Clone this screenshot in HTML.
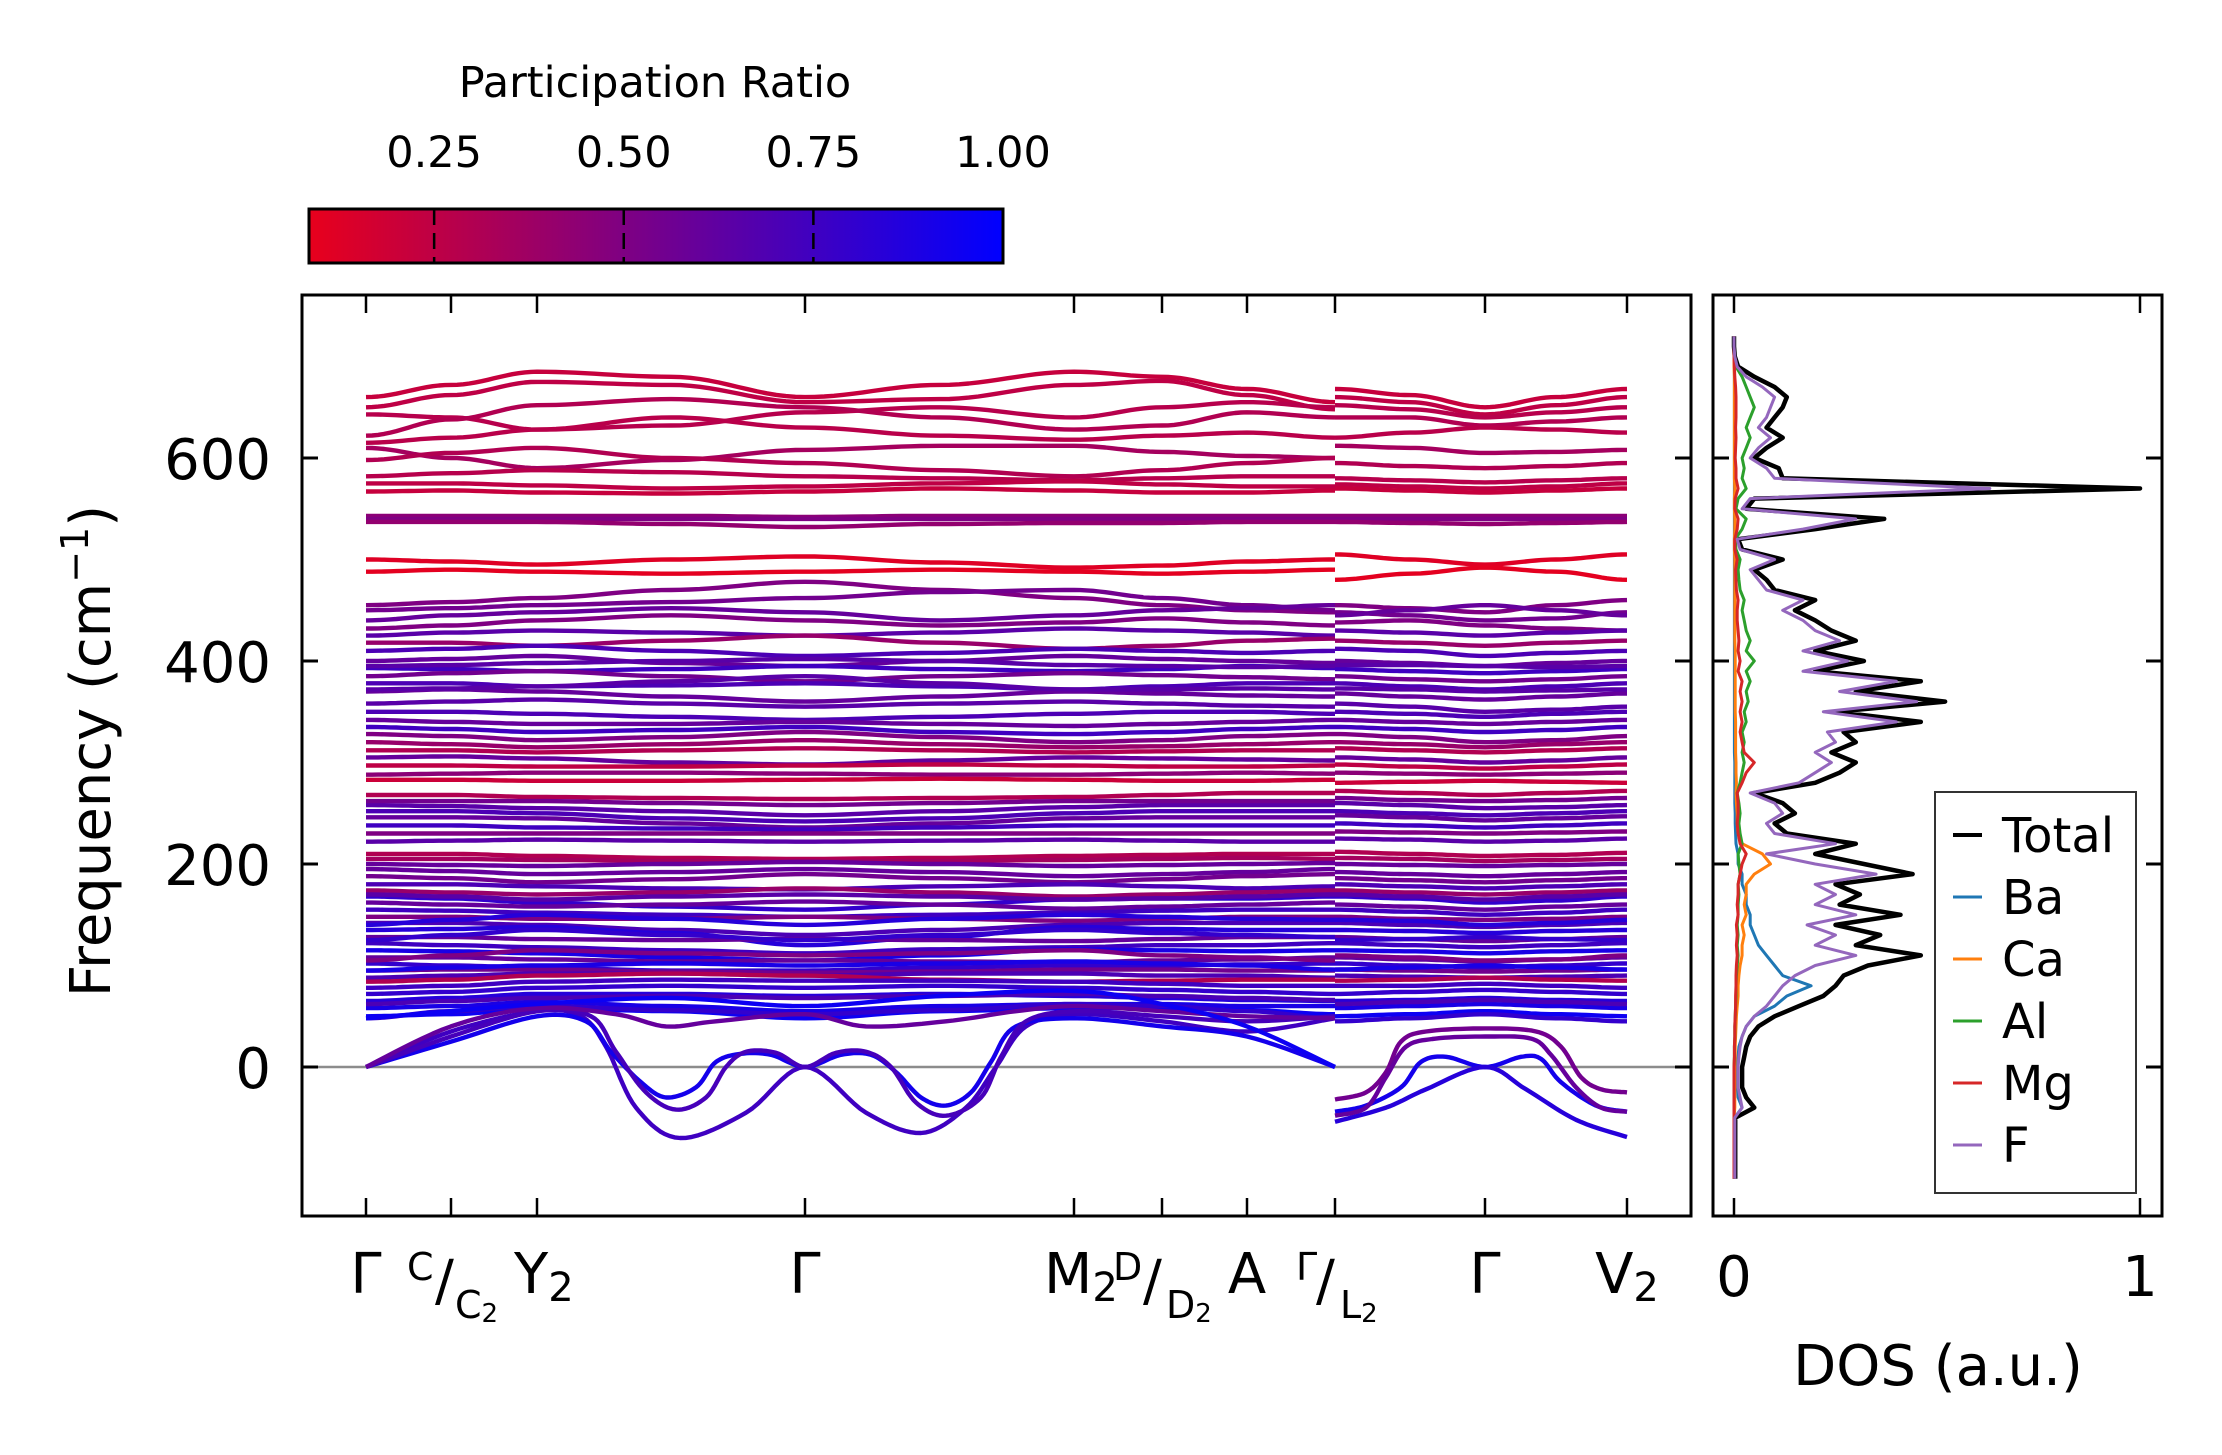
<!DOCTYPE html>
<html><head><meta charset="utf-8"><style>
html,body{margin:0;padding:0;background:#fff;}
svg{display:block;font-family:"DejaVu Sans","Liberation Sans",sans-serif;}
</style></head><body>
<svg id="fig" width="2222" height="1455" viewBox="0 0 2222 1455" xmlns="http://www.w3.org/2000/svg">
<defs>
<clipPath id="mainClip"><rect x="302" y="295" width="1389" height="921"/></clipPath>
<clipPath id="dosClip"><rect x="1713" y="295" width="449" height="921"/></clipPath>
<linearGradient id="cbGrad" x1="0" x2="1" y1="0" y2="0">
<stop offset="0" stop-color="rgb(232,0,28)"/><stop offset="0.5" stop-color="rgb(116,0,141)"/><stop offset="1" stop-color="rgb(0,0,255)"/>
</linearGradient>
</defs>
<g id="bands" clip-path="url(#mainClip)"></g>
<g id="dos" clip-path="url(#dosClip)"></g>
<g id="axes"></g>
<text x="655" y="97" font-size="43" text-anchor="middle">Participation Ratio</text>
<text transform="translate(110,751) rotate(-90)" font-size="56" text-anchor="middle">Frequency (cm<tspan font-size="38" dy="-22">−1</tspan><tspan dy="22">)</tspan></text>
<text x="1938" y="1385" font-size="56" text-anchor="middle">DOS (a.u.)</text>
<g font-size="56">
<text x="366" y="1293" text-anchor="middle">Γ</text>
<text x="407" y="1280" font-size="38">C</text>
<text x="435" y="1300">/</text>
<text x="455" y="1318" font-size="38">C<tspan font-size="26" dy="4">2</tspan></text>
<text x="514" y="1293">Y<tspan font-size="40" dy="8">2</tspan></text>
<text x="805" y="1293" text-anchor="middle">Γ</text>
<text x="1044" y="1293">M<tspan font-size="40" dy="8">2</tspan></text>
<text x="1113" y="1280" font-size="38">D</text>
<text x="1143" y="1300">/</text>
<text x="1166" y="1318" font-size="38">D<tspan font-size="26" dy="4">2</tspan></text>
<text x="1247" y="1293" text-anchor="middle">A</text>
<text x="1296" y="1280" font-size="38">Γ</text>
<text x="1316" y="1300">/</text>
<text x="1340" y="1318" font-size="38">L<tspan font-size="26" dy="4">2</tspan></text>
<text x="1485" y="1293" text-anchor="middle">Γ</text>
<text x="1627" y="1293" text-anchor="middle">V<tspan font-size="40" dy="8">2</tspan></text>
</g>
</svg>
<script>
const kTicks = [0, 0.085, 0.171, 0.439, 0.708, 0.796, 0.881, 0.969, 1.119, 1.261];
const kLeftNodes = [0, 0.085, 0.171, 0.305, 0.439, 0.574, 0.708, 0.796, 0.881, 0.969];
const kRightNodes = [0.969, 1.044, 1.119, 1.19, 1.261];
const bandValues = [
[660,672,685,680,660,672,685,680,668,655,668,662,650,660,668],
[650,662,675,672,655,658,672,676,662,648,660,655,643,652,660],
[643,640,628,632,645,650,640,650,655,650,652,648,640,645,650],
[622,638,652,658,650,640,628,632,645,640,640,640,632,636,640],
[615,620,628,640,630,622,618,622,625,620,620,625,630,628,625],
[610,600,590,598,608,612,612,606,602,600,612,610,605,606,608],
[598,605,610,600,595,588,582,588,595,600,595,592,590,592,595],
[582,585,588,586,582,580,578,580,582,582,580,578,576,578,580],
[575,575,573,570,572,575,577,574,572,572,574,572,570,572,575],
[567,568,566,565,567,570,568,566,566,568,570,568,566,568,570],
[543,543,543,543,542,543,543,543,543,543,543,543,543,543,543],
[540,540,540,540,540,540,540,540,540,540,540,540,540,540,540],
[537,537,537,535,532,535,536,536,537,537,537,536,535,536,537],
[500,498,495,500,503,497,492,494,498,500,505,500,495,500,505],
[488,490,488,486,488,490,488,486,488,490,480,486,492,488,480],
[455,458,462,470,478,470,462,455,450,448,455,452,448,455,460],
[450,452,455,458,462,468,470,462,455,450,448,445,440,442,448],
[440,445,448,452,448,440,445,450,452,455,445,450,455,450,445],
[432,435,440,445,440,435,438,442,438,435,438,440,435,432,430],
[425,428,430,428,425,428,432,430,428,425,430,428,425,428,430],
[418,418,415,420,425,418,412,415,420,422,420,418,415,418,420],
[410,412,415,410,405,408,412,410,408,410,412,410,405,408,410],
[400,402,405,398,395,400,405,402,400,398,400,398,395,398,400],
[393,392,390,392,395,392,390,392,395,393,392,390,388,390,392],
[385,388,390,385,380,385,388,386,384,382,385,382,380,382,385],
[378,378,375,376,378,375,372,375,378,378,378,375,372,375,378],
[370,372,370,365,360,365,370,368,366,365,368,365,362,365,368],
[358,360,362,358,355,358,360,358,356,355,358,355,350,352,355],
[350,350,348,345,342,345,348,350,350,348,350,348,345,348,350],
[342,340,338,338,340,338,336,338,340,342,342,340,338,340,342],
[335,333,330,332,335,330,328,330,333,335,335,333,330,332,335],
[328,326,322,325,330,325,320,322,326,328,328,325,320,322,326],
[320,318,315,318,322,318,315,316,318,320,320,318,315,318,320],
[312,312,310,312,314,312,310,311,312,312,314,312,310,312,314],
[305,306,304,300,298,302,305,304,303,302,305,303,300,302,305],
[297,297,296,296,297,298,297,296,296,297,298,296,294,296,298],
[288,289,290,290,289,288,288,289,290,289,290,289,288,289,290],
[283,283,282,282,283,284,283,282,282,283,280,281,282,281,280],
[395,396,398,400,402,400,396,395,394,395,396,396,395,394,395],
[372,373,375,380,385,378,372,372,373,372,373,372,370,371,372],
[258,257,255,252,248,252,256,258,258,258,260,258,255,256,258],
[252,252,250,245,242,245,250,252,252,252,252,250,248,250,252],
[246,246,245,240,236,240,245,246,246,246,248,246,243,245,247],
[238,238,236,235,234,236,238,238,238,238,240,238,236,238,240],
[230,230,230,230,230,230,230,230,230,230,232,231,230,231,232],
[222,223,224,223,222,223,224,223,222,222,225,224,222,223,225],
[210,210,208,206,205,206,208,209,210,210,212,210,208,209,211],
[205,205,204,203,203,203,204,205,206,205,206,205,203,204,205],
[200,199,198,200,202,200,198,199,200,201,200,199,198,199,200],
[268,268,266,265,264,265,266,268,270,270,272,270,268,270,272],
[262,262,262,260,258,260,262,262,262,262,265,263,262,263,265],
[195,193,190,192,195,192,188,190,192,195,192,190,188,190,192],
[188,186,182,185,190,186,182,185,188,190,186,184,182,184,186],
[180,180,178,176,175,178,180,178,176,178,180,178,176,178,180],
[174,172,170,172,176,172,168,170,172,174,174,172,170,172,174],
[168,166,162,158,155,160,165,166,166,168,168,166,162,164,168],
[162,160,158,160,163,160,156,158,160,162,160,158,155,158,160],
[155,154,152,150,148,150,152,154,155,155,155,153,150,152,155],
[148,148,146,146,148,146,144,146,148,148,148,146,145,146,148],
[142,142,140,135,130,135,140,142,142,142,142,140,138,140,142],
[135,136,138,132,120,128,138,136,135,135,135,134,132,134,135],
[128,128,126,125,126,125,124,126,128,128,128,126,124,126,128],
[122,120,118,115,112,116,118,120,120,122,122,120,118,120,122],
[115,114,112,108,105,110,116,115,114,115,115,114,112,114,115],
[108,108,106,104,105,104,103,105,106,108,108,106,104,106,108],
[102,100,98,95,95,98,100,100,101,102,102,100,98,100,102],
[95,96,96,94,93,94,96,96,95,95,96,95,94,95,96],
[88,90,92,92,90,92,92,90,90,88,90,89,88,89,90],
[84,86,90,92,90,86,84,85,86,86,85,86,88,86,85],
[78,80,84,86,85,85,84,82,80,80,80,80,82,80,78],
[72,74,78,80,78,80,78,76,74,72,72,74,76,74,72],
[65,68,72,72,70,72,70,68,66,65,65,66,68,66,65],
[58,60,64,60,55,60,62,62,60,60,58,60,62,60,58],
[50,52,58,55,48,55,58,58,56,52,50,52,55,52,50],
[48,55,60,56,52,56,62,60,55,48,45,48,52,48,45],
[105,110,115,112,110,112,115,110,108,105,110,108,105,106,110],
[140,145,150,146,140,146,150,148,146,145,145,144,140,142,145],
[170,168,165,168,170,168,165,166,168,170,170,168,165,168,170],
[62,65,68,70,68,70,72,70,68,66,62,64,66,64,62],
[125,130,135,130,125,130,135,132,130,128,125,126,128,126,125],
[95,98,100,102,100,102,104,102,100,96,96,98,100,98,96]
];
const bandPR = [0.22,0.25,0.28,0.3,0.27,0.35,0.3,0.28,0.25,0.22,0.45,0.5,0.42,0.12,0.1,
0.5,0.55,0.6,0.5,0.65,0.4,0.7,0.6,0.75,0.55,0.7,0.6,0.65,0.7,0.6,0.75,0.5,0.4,0.3,0.6,0.25,0.45,0.2,0.65,0.65,
0.65,0.7,0.6,0.75,0.5,0.65,0.3,0.35,0.6,0.3,0.55,
0.6,0.55,0.7,0.4,0.8,0.6,0.75,0.5,0.7,0.85,0.6,0.75,0.9,0.6,0.8,0.55,0.7,0.3,0.75,0.8,0.85,0.9,0.95,0.8,0.5,0.85,0.65,0.7,0.8,0.9];
const softLeft = [
[[0,0],[0.085,35],[0.171,55],[0.215,50],[0.24,20],[0.27,-40],[0.314,-70],[0.38,-45],[0.439,0],[0.50,-45],[0.555,-65],[0.60,-40],[0.63,0],[0.66,40],[0.711,52],[0.796,45],[0.881,35],[0.969,48]],
[[0,0],[0.085,25],[0.171,50],[0.22,45],[0.245,15],[0.275,-15],[0.30,-30],[0.33,-20],[0.35,5],[0.375,13],[0.405,12],[0.439,0],[0.475,12],[0.505,12],[0.53,-5],[0.555,-30],[0.58,-38],[0.605,-25],[0.625,5],[0.65,40],[0.711,48],[0.796,40],[0.881,30],[0.969,0]],
[[0,0],[0.085,30],[0.171,55],[0.225,50],[0.25,15],[0.28,-25],[0.31,-42],[0.34,-30],[0.36,0],[0.38,15],[0.41,14],[0.439,0],[0.47,14],[0.50,15],[0.525,0],[0.55,-35],[0.58,-48],[0.615,-30],[0.635,10],[0.66,45],[0.711,55],[0.796,50],[0.881,45],[0.969,50]],
[[0,0],[0.085,40],[0.171,58],[0.25,52],[0.30,40],[0.35,45],[0.439,52],[0.5,40],[0.58,45],[0.65,55],[0.711,60],[0.796,55],[0.881,50],[0.969,48]],
[[0,48],[0.085,55],[0.171,62],[0.305,68],[0.439,60],[0.574,70],[0.708,75],[0.796,62],[0.881,40],[0.969,0]]
];
const softLeftPR = [0.75,0.92,0.72,0.6,0.95];
const softRight = [
[[0.969,-32],[1.0,-25],[1.02,-5],[1.035,25],[1.06,35],[1.119,38],[1.17,35],[1.195,20],[1.215,-10],[1.235,-22],[1.261,-25]],
[[0.969,-44],[1.0,-38],[1.035,-20],[1.055,5],[1.08,10],[1.119,0],[1.155,10],[1.175,8],[1.195,-15],[1.23,-38],[1.261,-44]],
[[0.969,-54],[1.02,-40],[1.06,-22],[1.119,0],[1.16,-22],[1.21,-52],[1.261,-69]],
[[0.969,-48],[1.0,-40],[1.02,-10],[1.04,20],[1.07,28],[1.119,30],[1.165,28],[1.185,12],[1.21,-20],[1.235,-40],[1.261,-44]]
];
const softRightPR = [0.55,0.92,0.85,0.6];
const dosFreq = [-110,-100,-90,-80,-70,-60,-50,-40,-30,-20,-10,0,10,20,30,40,50,60,70,80,90,100,110,120,130,140,150,160,170,180,190,200,210,220,230,240,250,260,270,280,290,300,310,320,330,340,350,360,370,380,390,400,410,420,430,440,450,460,470,480,490,500,510,520,530,540,550,560,570,580,590,600,610,620,630,640,650,660,670,680,690,700,710,720];
const dosTotal = [0.003,0.003,0.003,0.003,0.003,0.003,0.003,0.05,0.03,0.02,0.02,0.02,0.025,0.03,0.04,0.06,0.1,0.16,0.22,0.25,0.27,0.33,0.46,0.3,0.36,0.25,0.41,0.26,0.31,0.25,0.44,0.32,0.2,0.3,0.13,0.1,0.15,0.12,0.05,0.2,0.26,0.3,0.24,0.3,0.27,0.46,0.25,0.52,0.3,0.46,0.2,0.32,0.2,0.3,0.24,0.2,0.15,0.2,0.1,0.08,0.05,0.12,0.02,0.01,0.2,0.37,0.03,0.05,1.0,0.12,0.11,0.05,0.08,0.12,0.08,0.1,0.12,0.13,0.1,0.05,0.01,0.002,0,0];
const dosF = [0.002,0.002,0.002,0.002,0.002,0.002,0.002,0.02,0.015,0.01,0.01,0.01,0.012,0.015,0.02,0.03,0.05,0.08,0.1,0.12,0.15,0.2,0.3,0.2,0.25,0.18,0.3,0.2,0.25,0.2,0.35,0.2,0.08,0.25,0.1,0.08,0.12,0.1,0.04,0.16,0.2,0.24,0.2,0.25,0.23,0.4,0.22,0.45,0.26,0.4,0.17,0.28,0.17,0.26,0.2,0.17,0.12,0.17,0.08,0.06,0.04,0.1,0.015,0.008,0.17,0.3,0.02,0.04,0.63,0.1,0.08,0.04,0.06,0.09,0.06,0.08,0.09,0.1,0.07,0.03,0.008,0.002,0,0];
const dosBa = [0.001,0.001,0.001,0.001,0.001,0.001,0.001,0.02,0.01,0.008,0.008,0.008,0.01,0.012,0.02,0.03,0.05,0.1,0.13,0.19,0.12,0.1,0.08,0.06,0.05,0.04,0.04,0.03,0.03,0.02,0.02,0.01,0.01,0.005,0.004,0.003,0.003,0.002,0.002,0.002,0.002,0.002,0.001,0.001,0.001,0.001,0.001,0.001,0.001,0.001,0.001,0.001,0.001,0.001,0.001,0.001,0.001,0.001,0.001,0.001,0.001,0.001,0.001,0.001,0.001,0.001,0.001,0.001,0.001,0.001,0.001,0.001,0.001,0.001,0.001,0.001,0.001,0.001,0.001,0.001,0.001,0,0,0];
const dosCa = [0,0,0,0,0,0,0,0.002,0.002,0.002,0.002,0.002,0.003,0.003,0.004,0.005,0.006,0.008,0.01,0.01,0.012,0.015,0.02,0.02,0.025,0.02,0.03,0.025,0.03,0.03,0.05,0.09,0.07,0.02,0.01,0.008,0.008,0.006,0.005,0.006,0.005,0.005,0.004,0.004,0.004,0.004,0.003,0.003,0.003,0.003,0.003,0.003,0.003,0.002,0.002,0.002,0.002,0.002,0.002,0.002,0.002,0.002,0.001,0.001,0.002,0.002,0.001,0.001,0.002,0.001,0.001,0.001,0.001,0.001,0.001,0.001,0.001,0.001,0.001,0.001,0,0,0,0];
const dosAl = [0,0,0,0,0,0,0,0,0,0,0,0,0.001,0.001,0.002,0.002,0.003,0.004,0.005,0.005,0.006,0.008,0.01,0.008,0.01,0.008,0.01,0.01,0.012,0.01,0.015,0.012,0.01,0.02,0.015,0.012,0.015,0.012,0.008,0.015,0.02,0.025,0.02,0.025,0.02,0.03,0.025,0.035,0.03,0.04,0.03,0.05,0.03,0.04,0.03,0.025,0.02,0.025,0.015,0.012,0.01,0.015,0.005,0.003,0.02,0.03,0.005,0.01,0.03,0.02,0.025,0.02,0.03,0.04,0.03,0.04,0.05,0.04,0.03,0.02,0.005,0,0,0];
const dosMg = [0,0,0,0,0,0,0,0,0,0,0,0,0.001,0.001,0.002,0.002,0.003,0.004,0.004,0.005,0.005,0.006,0.008,0.006,0.008,0.006,0.01,0.008,0.01,0.01,0.015,0.02,0.03,0.015,0.01,0.008,0.01,0.01,0.008,0.02,0.03,0.05,0.025,0.02,0.015,0.02,0.015,0.02,0.015,0.02,0.01,0.015,0.01,0.012,0.01,0.008,0.008,0.01,0.006,0.005,0.004,0.008,0.002,0.002,0.008,0.01,0.002,0.003,0.01,0.005,0.005,0.003,0.004,0.005,0.004,0.005,0.005,0.005,0.004,0.002,0.001,0,0,0];
const dosNames = ['Total','Ba','Ca','Al','Mg','F'];
const dosColors = ['#000000','#1f77b4','#ff7f0e','#2ca02c','#d62728','#9467bd'];
const cbTicks = [0.25, 0.5, 0.75, 1.0];
const cbTickLabels = ['0.25','0.50','0.75','1.00'];
const yTicks = [0, 200, 400, 600];
const dosXTicks = [0, 1];

const NS = 'http://www.w3.org/2000/svg';
const kx = k => 366 + k * 1000;
const fy = f => 1067 - f * 1.015;
const dx = v => 1734 + v * 406;
const cbx = p => 309 + (p - 0.085) / 0.915 * 694;
function prColor(p){
  const t = Math.max(0, Math.min(1, (p - 0.085) / 0.915));
  return 'rgb(' + Math.round(232*(1-t)) + ',0,' + Math.round(28 + 227*t) + ')';
}
function mk(tag, attrs, parent){
  const e = document.createElementNS(NS, tag);
  for (const a in attrs) e.setAttribute(a, attrs[a]);
  parent.appendChild(e);
  return e;
}
const gB = document.getElementById('bands');
const gD = document.getElementById('dos');
const gA = document.getElementById('axes');

const zl = mk('line', {x1:302, x2:1691, y1:fy(0), y2:fy(0), stroke:'#8c8c8c', 'stroke-width':2.5}, gB);



function cosPath(ks, vs){
  let d = '';
  for (let i = 0; i < ks.length - 1; i++){
    const n = 14;
    for (let j = (i === 0 ? 0 : 1); j <= n; j++){
      const t = j / n, w = (1 - Math.cos(Math.PI * t)) / 2;
      const k = ks[i] + (ks[i+1] - ks[i]) * t;
      const v = vs[i] + (vs[i+1] - vs[i]) * w;
      d += (d ? 'L' : 'M') + kx(k).toFixed(1) + ',' + fy(v).toFixed(1);
    }
  }
  return d;
}
function crPath(pts){
  let d = '';
  for (let i = 0; i < pts.length - 1; i++){
    const p0 = pts[Math.max(0, i-1)], p1 = pts[i], p2 = pts[i+1], p3 = pts[Math.min(pts.length-1, i+2)];
    const n = 10;
    for (let j = (i === 0 ? 0 : 1); j <= n; j++){
      const t = j / n, t2 = t*t, t3 = t2*t;
      const cr = (a,b,c,e) => 0.5*((2*b) + (-a+c)*t + (2*a-5*b+4*c-e)*t2 + (-a+3*b-3*c+e)*t3);
      d += (d ? 'L' : 'M') + kx(cr(p0[0],p1[0],p2[0],p3[0])).toFixed(1) + ',' + fy(cr(p0[1],p1[1],p2[1],p3[1])).toFixed(1);
    }
  }
  return d;
}
const BW = 4.4;
bandValues.forEach((vals, i) => {
  const col = prColor(bandPR[i]);
  const pl = mk('path', {d: cosPath(kLeftNodes, vals.slice(0,10)), fill:'none', stroke:col, 'stroke-width':BW, 'stroke-linejoin':'round'}, gB);
  
  
  const pr = mk('path', {d: cosPath(kRightNodes, vals.slice(10)), fill:'none', stroke:col, 'stroke-width':BW, 'stroke-linejoin':'round'}, gB);
  
  
});
softLeft.forEach((pts, i) => {
  const p = mk('path', {d: crPath(pts), fill:'none', stroke:prColor(softLeftPR[i]), 'stroke-width':BW, 'stroke-linejoin':'round'}, gB);
  
  
});
softRight.forEach((pts, i) => {
  const p = mk('path', {d: crPath(pts), fill:'none', stroke:prColor(softRightPR[i]), 'stroke-width':BW, 'stroke-linejoin':'round'}, gB);
  
  
});

const dosSeries = [dosTotal, dosBa, dosCa, dosAl, dosMg, dosF];
dosSeries.forEach((vals, si) => {
  let d = '';
  vals.forEach((v, j) => { d += (j ? 'L' : 'M') + dx(v).toFixed(1) + ',' + fy(dosFreq[j]).toFixed(1); });
  const p = mk('path', {d: d, fill:'none', stroke:dosColors[si], 'stroke-width': si === 0 ? 4.5 : 3, 'stroke-linejoin':'round'}, gD);
  
  
});

const f1 = mk('rect', {x:302, y:295, width:1389, height:921, fill:'none', stroke:'#000', 'stroke-width':3}, gA);


const f2 = mk('rect', {x:1713, y:295, width:449, height:921, fill:'none', stroke:'#000', 'stroke-width':3}, gA);



kTicks.forEach(k => {
  const t1 = mk('line', {x1:kx(k), x2:kx(k), y1:1216, y2:1198, stroke:'#000', 'stroke-width':2.5}, gA);
  
  
  const t2 = mk('line', {x1:kx(k), x2:kx(k), y1:295, y2:313, stroke:'#000', 'stroke-width':2.5}, gA);
  
  
});
yTicks.forEach(v => {
  [[302,318],[1691,1675],[1713,1729],[2162,2146]].forEach(([a,b]) => {
    const t = mk('line', {x1:a, x2:b, y1:fy(v), y2:fy(v), stroke:'#000', 'stroke-width':3}, gA);
    
    
  });
  const lb = mk('text', {x:271, y:fy(v)+21, 'font-size':56, 'text-anchor':'end'}, gA);
  lb.textContent = String(v);
  
  
});
dosXTicks.forEach(v => {
  const t1 = mk('line', {x1:dx(v), x2:dx(v), y1:1216, y2:1198, stroke:'#000', 'stroke-width':2.5}, gA);
  
  
  const t2 = mk('line', {x1:dx(v), x2:dx(v), y1:295, y2:313, stroke:'#000', 'stroke-width':2.5}, gA);
  
  
  const lb = mk('text', {x:dx(v), y:1296, 'font-size':56, 'text-anchor':'middle'}, gA);
  lb.textContent = String(v);
  
  
});

const cb = mk('rect', {x:309, y:209, width:694, height:54, fill:'url(#cbGrad)', stroke:'#000', 'stroke-width':3}, gA);


cbTicks.forEach((p, i) => {
  if (p < 1) {
    const t = mk('line', {x1:cbx(p), x2:cbx(p), y1:209, y2:263, stroke:'#000', 'stroke-width':2.5, 'stroke-dasharray':'16,8'}, gA);
    
    
  }
  const lb = mk('text', {x:cbx(p), y:167, 'font-size':43, 'text-anchor':'middle'}, gA);
  lb.textContent = cbTickLabels[i];
  
  
});

const lg = mk('rect', {x:1935, y:792, width:201, height:401, fill:'#fff', stroke:'#333', 'stroke-width':2}, gA);


dosNames.forEach((n, i) => {
  const y = 835 + i * 62;
  const ln = mk('line', {x1:1953, x2:1982, y1:y, y2:y, stroke:dosColors[i], 'stroke-width': i === 0 ? 4 : 3}, gA);
  
  
  const t = mk('text', {x:2002, y:y+17, 'font-size':48}, gA);
  t.textContent = n;
  
  
});
</script>
</body></html>
